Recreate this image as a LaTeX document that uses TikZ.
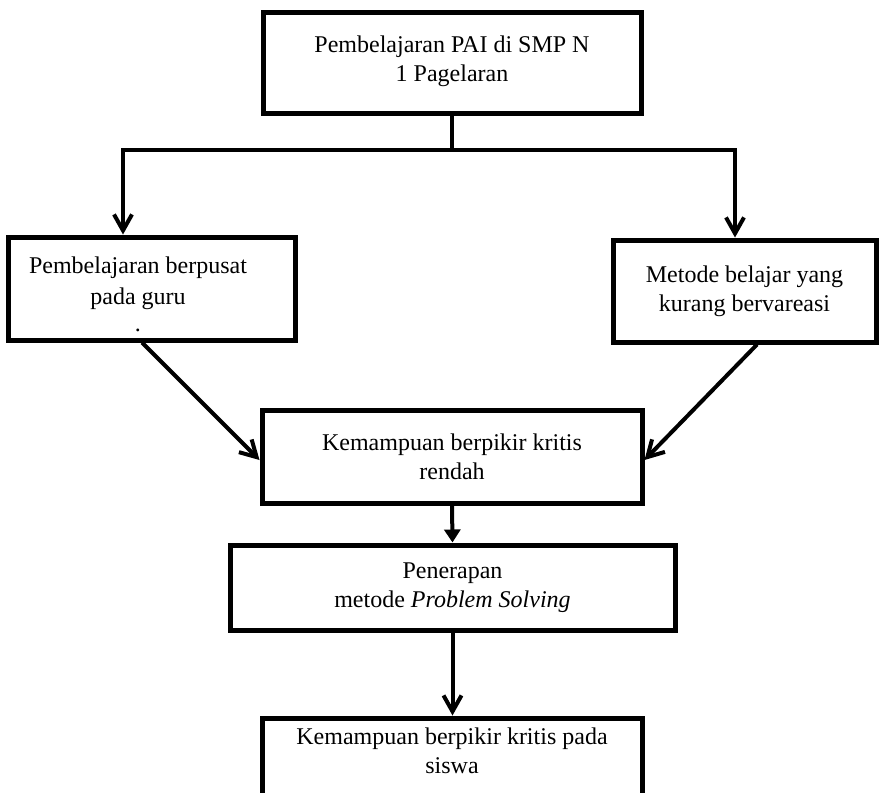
\documentclass[tikz,border=0pt]{standalone}
\usepackage{fontspec}
\setmainfont{Liberation Serif}
\usetikzlibrary{positioning,arrows.meta}

\begin{document}
\begin{tikzpicture}[
  x=0.5pt,y=-0.5pt,
  font=\fontsize{12}{14.5}\selectfont,
  box/.style={draw,line width=2.5pt,inner sep=0pt,align=center},
  txt/.style={inner sep=0pt,align=center},
  link/.style={line width=2pt},
  arr/.style={-{Straight Barb[length=8pt,width=9pt]},line width=2pt},
  arrtri/.style={-{Triangle[length=6.5pt,width=8pt]},line width=2pt}
]
\useasboundingbox (0,0) rectangle (879,793);
\clip (0,0) rectangle (879,793);
\node[box,minimum width=189pt,minimum height=50.5pt] (top) at (452,62.5) {Pembelajaran PAI di SMP N\\1 Pagelaran\\[-11pt]\mbox{}};
\node[box,minimum width=143.5pt,minimum height=51.5pt] (guru) at (151.5,288.5) {};
\node[txt] (guru-txt) at (138,294) {Pembelajaran berpusat\\[1pt]pada guru\\[-1pt].};
\node[box,minimum width=131.5pt,minimum height=51pt] (metode) at (744.5,291) {Metode belajar yang\\kurang bervareasi};
\node[box,minimum width=190pt,minimum height=46.5pt] (rendah) at (452,456.5) {Kemampuan berpikir kritis\\rendah};
\node[box,minimum width=222.5pt,minimum height=42.5pt] (ps) at (452.5,587.5) {Penerapan\\metode \textit{Problem Solving}};
\node[box,minimum width=190pt,minimum height=52pt] (siswa) at (452,770) {Kemampuan berpikir kritis pada\\siswa\\\strut};
\coordinate (fork) at (452,150);
\coordinate (forkL) at (123,150);
\coordinate (forkR) at (735,150);
\draw[link] (top.south) -- (fork);
\draw[arr] (fork) -- (forkL) -- (forkL |- guru.north);
\draw[arr] (fork) -- (forkR) -- (forkR |- metode.north);
\draw[arr] ([xshift=-4.75pt]guru.south) -- ([yshift=-1.75pt]rendah.west);
\draw[arr] ([xshift=6.25pt]metode.south) -- ([yshift=-1.75pt]rendah.east);
\draw[arrtri] (rendah.south) -- (ps.north);
\draw[arr] (ps.south) -- (ps.south |- siswa.north);
\end{tikzpicture}
\end{document}
